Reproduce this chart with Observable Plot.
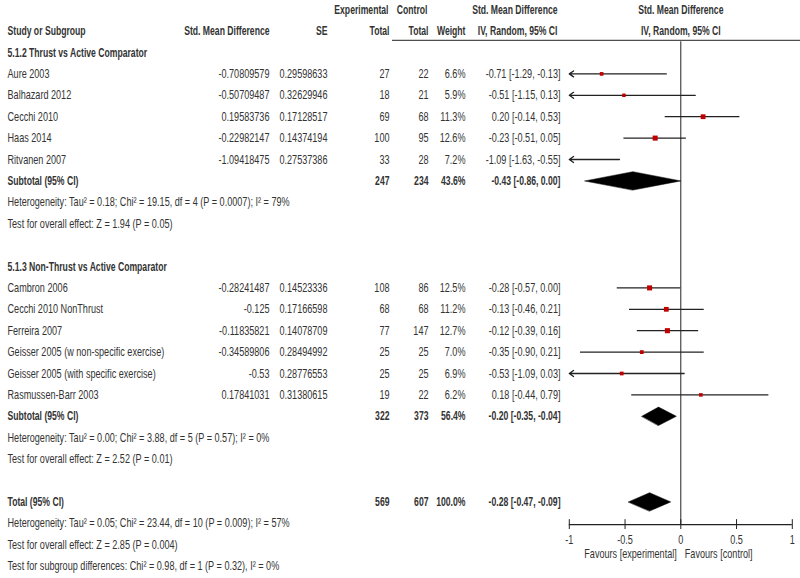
<!DOCTYPE html>
<html>
<head>
<meta charset="utf-8">
<script src="https://cdn.jsdelivr.net/npm/d3@7"></script>
<script src="https://cdn.jsdelivr.net/npm/@observablehq/plot@0.6"></script>
<style>
  html, body { margin: 0; padding: 0; background: #fff; }
  #chart svg { display: block; }
</style>
</head>
<body>
<div id="chart"></div>
<script>
// ---------- data ----------
const groupTitles = ["5.1.2 Thrust vs Active Comparator", "5.1.3 Non-Thrust vs Active Comparator"];
const studyNames = ["Aure 2003", "Balhazard 2012", "Cecchi 2010", "Haas 2014", "Ritvanen 2007",
  "Cambron 2006", "Cecchi 2010 NonThrust", "Ferreira 2007", "Geisser 2005 (w non-specific exercise)",
  "Geisser 2005 (with specific exercise)", "Rasmussen-Barr 2003"];
const smdText = ["-0.70809579", "-0.50709487", "0.19583736", "-0.22982147", "-1.09418475",
  "-0.28241487", "-0.125", "-0.11835821", "-0.34589806", "-0.53", "0.17841031"];
const seText = ["0.29598633", "0.32629946", "0.17128517", "0.14374194", "0.27537386",
  "0.14523336", "0.17166598", "0.14078709", "0.28494992", "0.28776553", "0.31380615"];
const expTotal = [27, 18, 69, 100, 33, 108, 68, 77, 25, 25, 19];
const ctlTotal = [22, 21, 68, 95, 28, 86, 68, 147, 25, 25, 22];
const weights = [6.6, 5.9, 11.3, 12.6, 7.2, 12.5, 11.2, 12.7, 7.0, 6.9, 6.2];
const estimates = [-0.71, -0.51, 0.20, -0.23, -1.09, -0.28, -0.13, -0.12, -0.35, -0.53, 0.18];
const ciLow = [-1.29, -1.15, -0.14, -0.51, -1.63, -0.57, -0.46, -0.39, -0.90, -1.09, -0.44];
const ciHigh = [-0.13, 0.13, 0.53, 0.05, -0.55, 0.00, 0.21, 0.16, 0.21, 0.03, 0.79];

const summaryLabels = ["Subtotal (95% CI)", "Subtotal (95% CI)", "Total (95% CI)"];
const summaryExp = [247, 322, 569];
const summaryCtl = [234, 373, 607];
const summaryWeight = [43.6, 56.4, 100.0];
const summaryEst = [-0.43, -0.20, -0.28];
const summaryLow = [-0.86, -0.35, -0.47];
const summaryHigh = [0.00, -0.04, -0.09];
const heterogeneityText = [
  "Heterogeneity: Tau² = 0.18; Chi² = 19.15, df = 4 (P = 0.0007); I² = 79%",
  "Heterogeneity: Tau² = 0.00; Chi² = 3.88, df = 5 (P = 0.57); I² = 0%",
  "Heterogeneity: Tau² = 0.05; Chi² = 23.44, df = 10 (P = 0.009); I² = 57%"];
const overallText = [
  "Test for overall effect: Z = 1.94 (P = 0.05)",
  "Test for overall effect: Z = 2.52 (P = 0.01)",
  "Test for overall effect: Z = 2.85 (P = 0.004)"];
const subgroupText = "Test for subgroup differences: Chi² = 0.98, df = 1 (P = 0.32), I² = 0%";
const axisTicks = [-1, -0.5, 0, 0.5, 1];
const favoursLabels = ["Favours [experimental]", "Favours [control]"];
const headerTopLabels = ["Experimental", "Control", "Std. Mean Difference"];
const headerBottomLabels = ["Study or Subgroup", "Std. Mean Difference", "SE", "Total", "Total", "Weight", "IV, Random, 95% CI"];
const forestHeader = ["Std. Mean Difference", "IV, Random, 95% CI"];

// ---------- layout ----------
const groupTitleRow = [0, 10];
const studyRows = [1, 2, 3, 4, 5, 11, 12, 13, 14, 15, 16];
const summaryRows = [6, 17, 21];
const hetRows = [7, 18, 22];
const overallRows = [8, 19, 23];
const subgroupRow = 24;
const axisRow = 22.06, tickLabelRow = 22.78, favoursRow = 23.44;
const col = {name: 7, smd: 269, se: 327, exp: 389, ctl: 428, weight: 465, ci: 560};
const headerTopPx = [388, 427, 557];
const headerBottomPx = [col.name, 269, 327, 389, 428, 465, 557];
const X0 = 680.3, UNIT = 111.5; // pixel of x = 0, pixels per unit
const pxToX = p => (p - X0) / UNIT;

const f2 = d => d.toFixed(2);
const ciStr = (e, l, h) => `${f2(e)} [${f2(l)}, ${f2(h)}]`;

const studies = studyNames.map((name, i) => ({
  row: studyRows[i], name, smd: smdText[i], se: seText[i], exp: expTotal[i], ctl: ctlTotal[i],
  weight: weights[i], wtxt: weights[i].toFixed(1) + "%", est: estimates[i], lo: ciLow[i], hi: ciHigh[i],
  ci: ciStr(estimates[i], ciLow[i], ciHigh[i])
}));
const summaries = summaryLabels.map((name, k) => ({
  row: summaryRows[k], name, exp: summaryExp[k], ctl: summaryCtl[k],
  wtxt: summaryWeight[k].toFixed(1) + "%", ci: ciStr(summaryEst[k], summaryLow[k], summaryHigh[k])
}));
const diamondHalf = 0.43;
const diamondPts = summaryLabels.flatMap((_, k) => [
  {k, x: summaryLow[k], y: summaryRows[k]},
  {k, x: summaryEst[k], y: summaryRows[k] - diamondHalf},
  {k, x: summaryHigh[k], y: summaryRows[k]},
  {k, x: summaryEst[k], y: summaryRows[k] + diamondHalf}
]);
const boldNotes = groupTitles.map((t, i) => ({row: groupTitleRow[i], text: t}));
const notes = [
  ...heterogeneityText.map((t, i) => ({row: hetRows[i], text: t})),
  ...overallText.map((t, i) => ({row: overallRows[i], text: t})),
  {row: subgroupRow, text: subgroupText}
];
const headerTop = headerTopLabels.map((text, i) => ({text, px: headerTopPx[i], row: -2}));
const headerBottom = headerBottomLabels.map((text, i) => ({text, px: headerBottomPx[i], row: -1, anchor: i === 0 ? "start" : "end"}));

const FONT = "'Liberation Sans', Arial, sans-serif";
const TXT = "#333";

function colText(data, key, px, opts = {}) {
  return Plot.text(data, {x: () => pxToX(px), y: "row", text: key, textAnchor: "end", fill: TXT, ...opts});
}

const clipped = studies.filter(d => d.lo < -1);
const unclipped = studies.filter(d => d.lo >= -1);
const inRange = studies.filter(d => d.est >= -1 && d.est <= 1);

const chart = Plot.plot({
  width: 800, height: 578,
  marginLeft: 0, marginRight: 0, marginTop: 0, marginBottom: 0,
  x: {domain: [-1, 1], range: [X0 - UNIT, X0 + UNIT], axis: null},
  y: {domain: [0, 24], range: [52, 52 + 24 * 21.4], axis: null},
  r: {type: "sqrt", domain: [0, 13], range: [0, 2.9]},
  style: {fontFamily: FONT, fontSize: "13px", background: "#fff", overflow: "visible"},
  marks: [
    // header
    Plot.text(headerTop, {x: d => pxToX(d.px), y: "row", text: "text", textAnchor: "end", fontWeight: "bold", fill: TXT}),
    Plot.text(headerBottom.filter(d => d.anchor === "end"), {x: d => pxToX(d.px), y: "row", text: "text", textAnchor: "end", fontWeight: "bold", fill: TXT}),
    Plot.text(headerBottom.filter(d => d.anchor === "start"), {x: d => pxToX(d.px), y: "row", text: "text", textAnchor: "start", fontWeight: "bold", fill: TXT}),
    Plot.text(forestHeader, {x: () => 0, y: (d, i) => i - 2, text: d => d, fontWeight: "bold", fill: TXT}),
    Plot.ruleY([-0.57], {y: d => d, x1: () => pxToX(392), x2: () => pxToX(800), stroke: "#222", strokeWidth: 1}),
    // group titles & notes
    Plot.text(boldNotes, {x: () => pxToX(col.name), y: "row", text: "text", textAnchor: "start", fontWeight: "bold", fill: TXT}),
    Plot.text(notes, {x: () => pxToX(col.name), y: "row", text: "text", textAnchor: "start", fill: TXT}),
    // study rows
    Plot.text(studies, {x: () => pxToX(col.name), y: "row", text: "name", textAnchor: "start", fill: TXT}),
    colText(studies, "smd", col.smd),
    colText(studies, "se", col.se),
    colText(studies, "exp", col.exp),
    colText(studies, "ctl", col.ctl),
    colText(studies, "wtxt", col.weight),
    colText(studies, "ci", col.ci),
    // summary rows
    Plot.text(summaries, {x: () => pxToX(col.name), y: "row", text: "name", textAnchor: "start", fontWeight: "bold", fill: TXT}),
    colText(summaries, "exp", col.exp, {fontWeight: "bold"}),
    colText(summaries, "ctl", col.ctl, {fontWeight: "bold"}),
    colText(summaries, "wtxt", col.weight, {fontWeight: "bold"}),
    colText(summaries, "ci", col.ci, {fontWeight: "bold"}),
    // zero line
    Plot.ruleX([0], {x: d => d, y1: () => -0.5, y2: () => axisRow, stroke: "#222", strokeWidth: 1}),
    // CI lines
    Plot.ruleY(unclipped, {y: "row", x1: "lo", x2: "hi", stroke: "#222", strokeWidth: 1.3}),
    Plot.arrow(clipped, {y1: "row", y2: "row", x1: "hi", x2: () => -1, stroke: "#222", strokeWidth: 1.3, headLength: 6, headAngle: 70}),
    // boxes
    Plot.dot(inRange, {x: "est", y: "row", r: "weight", symbol: "square", fill: "#c00000", stroke: "none"}),
    // diamonds
    Plot.line(diamondPts, {x: "x", y: "y", z: "k", curve: "linear-closed", fill: "#000", stroke: "#000", strokeWidth: 0.5}),
    // axis
    Plot.ruleY([axisRow], {y: d => d, x1: () => -1, x2: () => 1, stroke: "#222", strokeWidth: 1.2}),
    Plot.ruleX(axisTicks, {x: d => d, y1: () => axisRow - 0.23, y2: () => axisRow + 0.23, stroke: "#222", strokeWidth: 1}),
    Plot.text(axisTicks, {x: d => d, y: () => tickLabelRow, text: d => String(d), fill: TXT}),
    Plot.text(favoursLabels.slice(0, 1), {x: () => 0, dx: -4, y: () => favoursRow, text: d => d, textAnchor: "end", fill: TXT}),
    Plot.text(favoursLabels.slice(1), {x: () => 0, dx: 4, y: () => favoursRow, text: d => d, textAnchor: "start", fill: TXT})
  ]
});

// Condense glyphs horizontally to mimic the narrow typeface of the original
chart.querySelectorAll("text").forEach(t => {
  const fw = t.closest("[font-weight]");
  const bold = fw && fw.getAttribute("font-weight") === "bold";
  const s = bold ? 0.665 : 0.70;
  const tr = t.getAttribute("transform");
  if (tr) {
    t.setAttribute("transform", tr + ` scale(${s},1)`);
  } else {
    const x = +(t.getAttribute("x") || 0), y = +(t.getAttribute("y") || 0);
    t.removeAttribute("x"); t.removeAttribute("y");
    t.setAttribute("transform", `translate(${x},${y}) scale(${s},1)`);
  }
});
document.getElementById("chart").appendChild(chart);
</script>
</body>
</html>
